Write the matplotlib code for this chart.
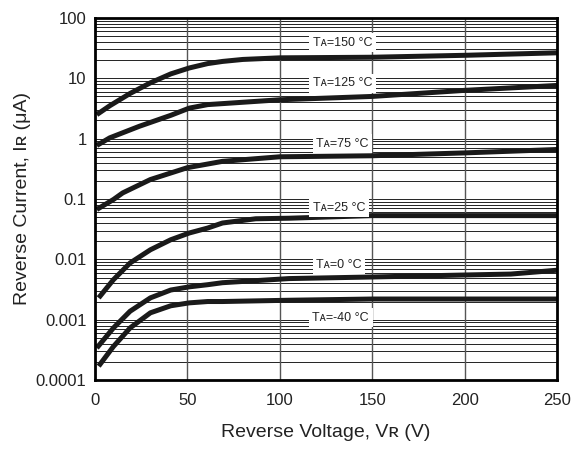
import numpy as np
import matplotlib.pyplot as plt

plt.rcParams['font.family'] = ['Liberation Sans', 'DejaVu Sans']

# curves, VR in volts, IR in uA
v_150 = [1, 8, 19, 30, 41, 51, 61, 69, 80, 100, 150, 200, 250]
i_150 = [2.5, 3.5, 5.6, 8.4, 11.8, 14.8, 17.5, 19, 20.5, 21.8, 22.3, 24, 26.4]
v_125 = [1, 8, 24, 41, 51, 61, 69, 100, 150, 200, 250]
i_125 = [0.77, 1.03, 1.6, 2.43, 3.2, 3.66, 3.8, 4.4, 5.0, 6.3, 7.6]
v_75 = [1, 10, 15, 30, 50, 69, 100, 150, 200, 250]
i_75 = [0.067, 0.098, 0.126, 0.21, 0.33, 0.42, 0.50, 0.52, 0.58, 0.66]
v_25 = [2, 10, 19, 30, 41, 51, 61, 69, 87, 105, 150, 200, 250]
i_25 = [0.0023, 0.0046, 0.0087, 0.0144, 0.0211, 0.0273, 0.033, 0.040, 0.047,
        0.048, 0.053, 0.053, 0.053]
v_0 = [1, 10, 19, 30, 41, 51, 61, 69, 105, 150, 200, 225, 250]
i_0 = [0.00034, 0.00073, 0.00138, 0.0023, 0.0031, 0.0035, 0.0038, 0.0041,
       0.0048, 0.0051, 0.0055, 0.0057, 0.0066]
v_m40 = [2, 10, 19, 30, 41, 51, 61, 69, 105, 150, 200, 250]
i_m40 = [0.00017, 0.00036, 0.00073, 0.0013, 0.0017, 0.0019, 0.0020, 0.0020,
         0.0021, 0.0022, 0.0022, 0.0022]

labels = ['T\u1d00=150 \u00b0C', 'T\u1d00=125 \u00b0C', 'T\u1d00=75 \u00b0C',
          'T\u1d00=25 \u00b0C', 'T\u1d00=0 \u00b0C', 'T\u1d00=-40 \u00b0C']
label_x = [134, 134, 134, 132, 132, 133]
label_y = [39, 8.2, 0.83, 0.071, 0.0081, 0.00107]

yticks = [0.0001, 0.001, 0.01, 0.1, 1, 10, 100]
ytick_labels = ['0.0001', '0.001', '0.01', '0.1', '1', '10', '100']
xticks = [0, 50, 100, 150, 200, 250]

fig = plt.figure(figsize=(5.79, 4.59), dpi=100)
ax = fig.add_axes([0.164, 0.172, 0.798, 0.789])
ax.set_yscale('log')
ax.set_xlim(0, 250)
ax.set_ylim(1e-4, 100)

# grid: every log line horizontally, 50 V steps vertically
for dec in range(-4, 2):
    for k in range(1, 10):
        ax.axhline(k * 10.0**dec, color='#222222', lw=0.7, zorder=1)
for xv in xticks[1:-1]:
    ax.axvline(xv, color='#555555', lw=1.0, zorder=1)

curves = [(v_150, i_150), (v_125, i_125), (v_75, i_75),
          (v_25, i_25), (v_0, i_0), (v_m40, i_m40)]
for v, i in curves:
    ax.plot(v, i, color='#1a1a1a', lw=3.6, solid_capstyle='butt',
            solid_joinstyle='round', zorder=3)

for t, x, y in zip(labels, label_x, label_y):
    ax.text(x, y, t, fontsize=9, ha='center', va='center', zorder=4,
            color='#222222',
            bbox=dict(facecolor='white', edgecolor='none', pad=2.5))

ax.set_yticks(yticks)
ax.set_yticklabels(ytick_labels)
ax.yaxis.set_minor_locator(plt.NullLocator())
ax.set_xticks(xticks)
ax.tick_params(length=0, labelsize=12, labelcolor='#222222')
ax.tick_params(axis='x', pad=9)
ax.tick_params(axis='y', pad=6)
for s in ax.spines.values():
    s.set_linewidth(2)
    s.set_zorder(5)

fig.text(0.563, 0.058, 'Reverse Voltage, V\u0280 (V)', fontsize=14,
         ha='center', va='center', color='#222222')
fig.text(0.038, 0.568, 'Reverse Current, I\u0280 (\u03bcA)', fontsize=14,
         ha='center', va='center', rotation=90, color='#222222')

plt.savefig('out.png', dpi=100)
